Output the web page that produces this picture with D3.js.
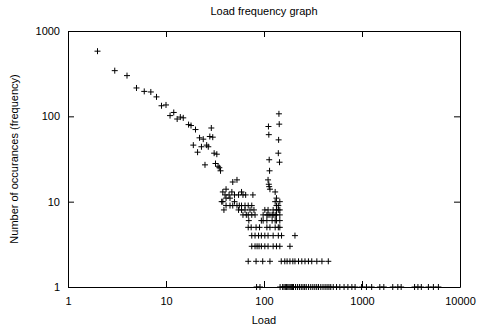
<!DOCTYPE html>
<html>
<head>
<meta charset="utf-8">
<script src="https://cdn.jsdelivr.net/npm/d3@7"></script>
<style>
  body { margin: 0; background: white; }
  text { font-family: "Liberation Sans", Arial, sans-serif; font-size: 11px; fill: black; }
</style>
</head>
<body>
<div id="canvas"></div>
<script>
"use strict"

// falling part of the curve, load 2..36
let headLoads = [2,3,4,5,6,7,8,9,10,11,12,13,14,15,17,18,19,20,21,22,23,24,25,26,27,28,29,30,31,32,33,34,35,36];
let headFreqs = [580,343,300,215,196,193,169,133,136,102,111,93,98,96,80,78,46,70,38,56,44,54,27,46,44,58,73,57,37,28,36,26,25,23];

// cluster between 37 and 110
let midLoads = [37,38,38,39,40,41,41,41,44,45,45,47,48,48,50,50,53,53,55,55,56,59,59,59,61,61,64,64,65,66,
                69,69,69,69,70,72,74,75,75,75,75,77,79,81,81,81,83,83,84,85,88,89,90,91,94,94,94,97,98,98,
                102,102,102,107,107,107,110,110,110,110];
let midFreqs = [10,13,10,8,12,14,11,9,12,11,9,13,17,9,12,10,18,9,12,8,9,13,9,8,12,7,9,8,12,7,
                9,7,5,2,6,8,5,9,7,4,3,12,8,7,4,3,5,2,1,3,4,3,5,1,6,4,3,2,7,6,
                8,4,3,7,6,5,8,7,4,3];

// the spike round 110..150
let spikeLoads = [111,112,113,114,110,112,113,115,142,143,141,140,144,
                  115,115,115,121,121,124,124,124,124,130,130,130,130,130,134,134,134,134,134,134,
                  140,140,140,140,145,145,145,145,145,145,151,184,207];
let spikeFreqs = [76,61,31,23,18,16,15,14,107,81,53,37,29,
                  7,5,2,7,6,8,7,4,3,13,10,7,6,5,11,9,8,7,6,3,
                  9,8,5,4,10,8,7,6,5,3,4,3,4];

// freq 2 row
let pairLoads = [150,163,172,184,197,207,225,243,262,284,307,346,390,453];

// freq 1 row, the long tail
let singleLoads = [146,155,160,165,170,175,180,185,190,195,200,210,220,230,240,250,260,270,285,300,
                   315,330,345,360,380,400,420,440,460,480,509,550,594,656,718,788,850,990,1110,1255,
                   1520,1670,2060,2320,2510,3440,3720,4030,4760,5350,6020];

let xTicks = [1,10,100,1000,10000];
let yTicks = [1,10,100,1000];

let drawingWidth = 478;
let drawingHeight = 330;
let plotLeft = 68, plotRight = 460, plotTop = 31, plotBottom = 287;

let drawing = d3.select("#canvas")
    .append("svg")
    .attr("width", drawingWidth)
    .attr("height", drawingHeight);

let x = d3.scaleLog().domain([1, 10000]).range([plotLeft, plotRight]);
let y = d3.scaleLog().domain([1, 1000]).range([plotBottom, plotTop]);

let points = [];
headLoads.forEach((l, i) => points.push([l, headFreqs[i]]));
midLoads.forEach((l, i) => points.push([l, midFreqs[i]]));
spikeLoads.forEach((l, i) => points.push([l, spikeFreqs[i]]));
pairLoads.forEach(l => points.push([l, 2]));
singleLoads.forEach(l => points.push([l, 1]));

// axes, ticks point inwards like gnuplot
let fmt = d3.format("d");
drawing.append("g")
    .attr("transform", `translate(0,${plotBottom})`)
    .call(d3.axisBottom(x).tickValues(xTicks).tickFormat(fmt).tickSizeInner(-6).tickSizeOuter(0).tickPadding(10));
drawing.append("g")
    .attr("transform", `translate(0,${plotTop})`)
    .call(d3.axisTop(x).tickValues(xTicks).tickFormat("").tickSizeInner(-6).tickSizeOuter(0));
drawing.append("g")
    .attr("transform", `translate(${plotLeft},0)`)
    .call(d3.axisLeft(y).tickValues(yTicks).tickFormat(fmt).tickSizeInner(-6).tickSizeOuter(0).tickPadding(8));
drawing.append("g")
    .attr("transform", `translate(${plotRight},0)`)
    .call(d3.axisRight(y).tickValues(yTicks).tickFormat("").tickSizeInner(-6).tickSizeOuter(0));

drawing.selectAll(".domain, .tick line").attr("stroke", "black");
drawing.selectAll(".tick text")
    .attr("font-family", "Liberation Sans, Arial, sans-serif")
    .attr("font-size", 11)
    .attr("fill", "black");

// plus markers
drawing.append("g")
    .selectAll("path")
    .data(points)
    .join("path")
    .attr("transform", d => `translate(${x(d[0])},${y(d[1])})`)
    .attr("d", "M-3,0H3M0,-3V3")
    .attr("stroke", "black")
    .attr("stroke-width", 1)
    .attr("fill", "none");

// texts
drawing.append("text")
    .attr("x", (plotLeft + plotRight) / 2)
    .attr("y", 15)
    .attr("text-anchor", "middle")
    .text("Load frequency graph");

drawing.append("text")
    .attr("x", (plotLeft + plotRight) / 2)
    .attr("y", 324)
    .attr("text-anchor", "middle")
    .text("Load");

drawing.append("text")
    .attr("transform", `translate(18,${(plotTop + plotBottom) / 2}) rotate(-90)`)
    .attr("text-anchor", "middle")
    .text("Number of occurances (frequency)");
</script>
</body>
</html>
